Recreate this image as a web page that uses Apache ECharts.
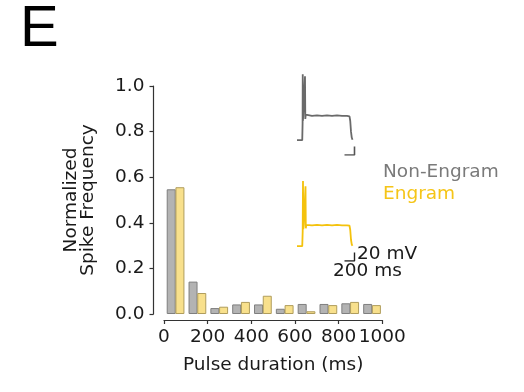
<!DOCTYPE html>
<html>
<head>
<meta charset="utf-8">
<script src="https://cdn.jsdelivr.net/npm/echarts@6/dist/echarts.min.js"></script>
<style>
html,body{margin:0;padding:0;background:#fff;}
#chart{width:524px;height:392px;}
</style>
</head>
<body>
<div id="chart"></div>
<script>
// Histogram bins (ms) and normalized spike frequency
const binStarts = [0, 100, 200, 300, 400, 500, 600, 700, 800, 900];
const nonEngram = [0.547, 0.142, 0.026, 0.042, 0.042, 0.023, 0.044, 0.044, 0.047, 0.044];
const engram    = [0.556, 0.092, 0.032, 0.053, 0.080, 0.039, 0.012, 0.039, 0.053, 0.039];
const xTicks = [0, 200, 400, 600, 800, 1000];
const yTicks = [0.0, 0.2, 0.4, 0.6, 0.8, 1.0];

// Example traces: time (ms), membrane potential (mV)
const grayTraceT = [0, 105, 112, 115, 118, 125, 150, 160, 166, 175, 200, 300, 400, 500, 600, 700, 800, 900, 1000, 1050, 1065, 1080, 1095, 1110, 1120];
const grayTraceV = [-70, -70, -30, 85, -25, -12, -14, 80, -20, -10, -12, -13, -12, -13, -12, -13, -12, -13, -13, -14, -25, -50, -64, -69, -70];
const yellowTraceT = [0, 105, 114, 120, 126, 135, 160, 170, 176, 185, 220, 300, 400, 500, 600, 700, 800, 900, 1000, 1050, 1065, 1080, 1095, 1110, 1120];
const yellowTraceV = [-70, -70, -35, 83, -30, -20, -22, 71, -28, -20, -21, -21, -20, -21, -20, -21, -20, -21, -21, -22, -32, -55, -66, -69, -70];
// Scale bar: 200 ms, 20 mV
const scaleT = [950, 1150, 1150];
const scaleV = [-105, -105, -85];

const font = 'DejaVu Sans';
const axisCol = '#333';

function pairs(xs, ys) { return xs.map((x, i) => [x, ys[i]]); }

const chart = echarts.init(document.getElementById('chart'), null, {renderer: 'canvas'});

const insetX = (gi) => ({
  gridIndex: gi, type: 'value', min: 0, max: 1200, show: false
});
const insetY = (gi) => ({
  gridIndex: gi, type: 'value', min: -105, max: 95, show: false
});

chart.setOption({
  animation: false,
  backgroundColor: '#fff',
  grid: [
    {left: 164, right: 141.7, top: 86, bottom: 78},
    {left: 297, width: 60, top: 70, height: 85},
    {left: 297, width: 60, top: 176, height: 85}
  ],
  xAxis: [
    {
      gridIndex: 0, type: 'value', min: 0, max: 1000, interval: 200,
      offset: 6,
      axisLine: {show: true, onZero: false, lineStyle: {color: axisCol, width: 1.2}},
      axisTick: {show: true, length: 4, lineStyle: {color: axisCol, width: 1.2}},
      splitLine: {show: false},
      axisLabel: {
        fontFamily: font, fontSize: 18.5, color: '#1a1a1a', margin: 8,
        showMinLabel: true, showMaxLabel: true,
        formatter: (v) => xTicks.includes(v) ? String(v) : ''
      },
      name: 'Pulse duration (ms)',
      nameLocation: 'middle', nameGap: 36,
      nameTextStyle: {fontFamily: font, fontSize: 18.5, color: '#1a1a1a'}
    },
    insetX(1), insetX(2)
  ],
  yAxis: [
    {
      gridIndex: 0, type: 'value', min: 0, max: 1, interval: 0.2,
      offset: 10.5,
      axisLine: {show: true, onZero: false, lineStyle: {color: axisCol, width: 1.2}},
      axisTick: {show: true, length: 4, lineStyle: {color: axisCol, width: 1.2}},
      splitLine: {show: false},
      axisLabel: {
        fontFamily: font, fontSize: 18.5, color: '#1a1a1a', margin: 9,
        formatter: (v) => {
          const t = yTicks.find(k => Math.abs(k - v) < 1e-6);
          return t === undefined ? '' : t.toFixed(1);
        }
      },
      name: 'Normalized\nSpike Frequency',
      nameLocation: 'middle', nameRotate: 90, nameGap: 57,
      nameTextStyle: {fontFamily: font, fontSize: 18.5, color: '#1a1a1a', lineHeight: 17}
    },
    insetY(1), insetY(2)
  ],
  series: [
    {
      type: 'bar', name: 'Non-Engram', xAxisIndex: 0, yAxisIndex: 0,
      barWidth: 9, barGap: '-100%',
      itemStyle: {color: '#b3b3b3', borderColor: '#7f7f7f', borderWidth: 1},
      data: binStarts.map((b, i) => [b + 33, nonEngram[i]])
    },
    {
      type: 'bar', name: 'Engram', xAxisIndex: 0, yAxisIndex: 0,
      barWidth: 9, barGap: '-100%',
      itemStyle: {color: '#f8e08c', borderColor: '#b09d5c', borderWidth: 1},
      data: binStarts.map((b, i) => [b + 73, engram[i]])
    },
    {
      type: 'line', xAxisIndex: 1, yAxisIndex: 1, symbol: 'none',
      lineStyle: {color: '#6a6a6a', width: 1.8},
      data: pairs(grayTraceT, grayTraceV)
    },
    {
      type: 'line', xAxisIndex: 1, yAxisIndex: 1, symbol: 'none',
      lineStyle: {color: '#555', width: 1.6},
      data: pairs(scaleT, scaleV)
    },
    {
      type: 'line', xAxisIndex: 2, yAxisIndex: 2, symbol: 'none',
      lineStyle: {color: '#f4c20d', width: 1.8},
      data: pairs(yellowTraceT, yellowTraceV)
    },
    {
      type: 'line', xAxisIndex: 2, yAxisIndex: 2, symbol: 'none',
      lineStyle: {color: '#222', width: 1.4},
      data: pairs(scaleT, scaleV)
    }
  ],
  graphic: [
    {type: 'text', left: 20, top: 1, style: {text: 'E', fontFamily: 'Liberation Sans', fontSize: 58, fill: '#000'}},
    {type: 'text', x: 383, y: 172, style: {text: 'Non-Engram', fontFamily: font, fontSize: 18.5, fill: '#7a7a7a', verticalAlign: 'middle'}},
    {type: 'text', x: 383, y: 194, style: {text: 'Engram', fontFamily: font, fontSize: 18.5, fill: '#f5c518', verticalAlign: 'middle'}},
    {type: 'text', x: 357, y: 254, style: {text: '20 mV', fontFamily: font, fontSize: 18.5, fill: '#1a1a1a', verticalAlign: 'middle'}},
    {type: 'text', x: 333, y: 271, style: {text: '200 ms', fontFamily: font, fontSize: 18.5, fill: '#1a1a1a', verticalAlign: 'middle'}}
  ]
});
</script>
</body>
</html>
